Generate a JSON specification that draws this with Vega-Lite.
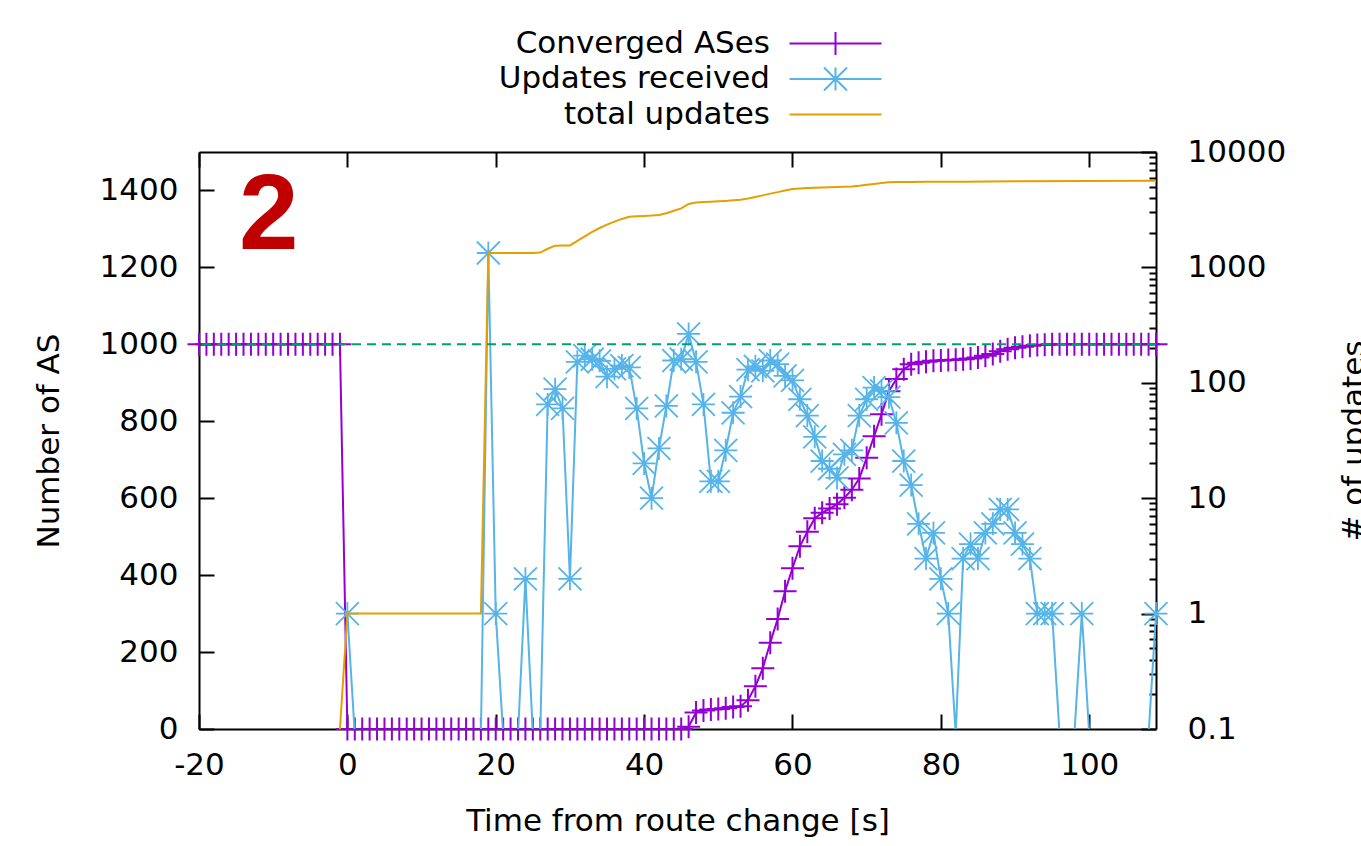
{
  "$schema": "https://vega.github.io/schema/vega-lite/v6.json",
  "width": 957,
  "height": 577,
  "autosize": {"type": "none"},
  "padding": {"left": 199, "top": 152, "right": 205, "bottom": 117},
  "background": "white",
  "config": {
    "view": {"stroke": null},
    "font": "DejaVu Sans",
    "axis": {
      "labelFont": "DejaVu Sans", "labelFontSize": 31, "labelColor": "black",
      "titleFont": "DejaVu Sans", "titleFontSize": 31, "titleFontWeight": "normal", "titleColor": "black",
      "domainColor": "black", "domainWidth": 2, "tickColor": "black", "tickWidth": 2,
      "grid": false, "zindex": 1, "labelFlush": false, "labelOverlap": false
    }
  },
  "datasets": {
    "conv": [
      {"t":-20,"v":1000},{"t":-19,"v":1000},{"t":-18,"v":1000},{"t":-17,"v":1000},{"t":-16,"v":1000},{"t":-15,"v":1000},{"t":-14,"v":1000},{"t":-13,"v":1000},{"t":-12,"v":1000},{"t":-11,"v":1000},
      {"t":-10,"v":1000},{"t":-9,"v":1000},{"t":-8,"v":1000},{"t":-7,"v":1000},{"t":-6,"v":1000},{"t":-5,"v":1000},{"t":-4,"v":1000},{"t":-3,"v":1000},{"t":-2,"v":1000},{"t":-1,"v":1000},
      {"t":0,"v":0},{"t":1,"v":0},{"t":2,"v":0},{"t":3,"v":0},{"t":4,"v":0},{"t":5,"v":0},{"t":6,"v":0},{"t":7,"v":0},{"t":8,"v":0},{"t":9,"v":0},
      {"t":10,"v":0},{"t":11,"v":0},{"t":12,"v":0},{"t":13,"v":0},{"t":14,"v":0},{"t":15,"v":0},{"t":16,"v":0},{"t":17,"v":0},{"t":18,"v":0},{"t":19,"v":0},
      {"t":20,"v":0},{"t":21,"v":0},{"t":22,"v":0},{"t":23,"v":0},{"t":24,"v":0},{"t":25,"v":0},{"t":26,"v":0},{"t":27,"v":0},{"t":28,"v":0},{"t":29,"v":0},
      {"t":30,"v":0},{"t":31,"v":0},{"t":32,"v":0},{"t":33,"v":0},{"t":34,"v":0},{"t":35,"v":0},{"t":36,"v":0},{"t":37,"v":0},{"t":38,"v":0},{"t":39,"v":0},
      {"t":40,"v":0},{"t":41,"v":0},{"t":42,"v":0},{"t":43,"v":0},{"t":44,"v":0},{"t":45,"v":0},{"t":46,"v":6},{"t":47,"v":43},{"t":48,"v":48},{"t":49,"v":51},
      {"t":50,"v":52},{"t":51,"v":54},{"t":52,"v":57},{"t":53,"v":59},{"t":54,"v":75},{"t":55,"v":111},{"t":56,"v":158},{"t":57,"v":224},{"t":58,"v":286},{"t":59,"v":358},
      {"t":60,"v":418},{"t":61,"v":475},{"t":62,"v":513},{"t":63,"v":548},{"t":64,"v":562},{"t":65,"v":573},{"t":66,"v":584},{"t":67,"v":601},{"t":68,"v":622},{"t":69,"v":651},
      {"t":70,"v":705},{"t":71,"v":761},{"t":72,"v":818},{"t":73,"v":878},{"t":74,"v":910},{"t":75,"v":935},{"t":76,"v":948},{"t":77,"v":952},{"t":78,"v":955},{"t":79,"v":957},
      {"t":80,"v":958},{"t":81,"v":959},{"t":82,"v":960},{"t":83,"v":961},{"t":84,"v":963},{"t":85,"v":966},{"t":86,"v":970},{"t":87,"v":975},{"t":88,"v":982},{"t":89,"v":987},
      {"t":90,"v":991},{"t":91,"v":994},{"t":92,"v":996},{"t":93,"v":998},{"t":94,"v":999},{"t":95,"v":1000},{"t":96,"v":1000},{"t":97,"v":1000},{"t":98,"v":1000},{"t":99,"v":1000},
      {"t":100,"v":1000},{"t":101,"v":1000},{"t":102,"v":1000},{"t":103,"v":1000},{"t":104,"v":1000},{"t":105,"v":1000},{"t":106,"v":1000},{"t":107,"v":1000},{"t":108,"v":1000},{"t":109,"v":1000}
    ],
    "upd": [
      {"t":0,"u":1},{"t":1,"u":0.09},{"t":2,"u":0.09},{"t":3,"u":0.09},{"t":4,"u":0.09},{"t":5,"u":0.09},{"t":6,"u":0.09},{"t":7,"u":0.09},{"t":8,"u":0.09},{"t":9,"u":0.09},
      {"t":10,"u":0.09},{"t":11,"u":0.09},{"t":12,"u":0.09},{"t":13,"u":0.09},{"t":14,"u":0.09},{"t":15,"u":0.09},{"t":16,"u":0.09},{"t":17,"u":0.09},{"t":18,"u":0.09},{"t":19,"u":1333},
      {"t":20,"u":1},{"t":21,"u":0.09},{"t":22,"u":0.09},{"t":23,"u":0.09},{"t":24,"u":2},{"t":25,"u":0.09},{"t":26,"u":0.09},{"t":27,"u":65},{"t":28,"u":88},{"t":29,"u":60},
      {"t":30,"u":2},{"t":31,"u":152},{"t":32,"u":172},{"t":33,"u":160},{"t":34,"u":155},{"t":35,"u":113},{"t":36,"u":132},{"t":37,"u":141},{"t":38,"u":136},{"t":39,"u":60},
      {"t":40,"u":20},{"t":41,"u":10},{"t":42,"u":27},{"t":43,"u":63},{"t":44,"u":156},{"t":45,"u":160},{"t":46,"u":265},{"t":47,"u":152},{"t":48,"u":65},{"t":49,"u":14},
      {"t":50,"u":14},{"t":51,"u":26},{"t":52,"u":55},{"t":53,"u":76},{"t":54,"u":130},{"t":55,"u":139},{"t":56,"u":127},{"t":57,"u":156},{"t":58,"u":145},{"t":59,"u":115},
      {"t":60,"u":105},{"t":61,"u":72},{"t":62,"u":52},{"t":63,"u":34},{"t":64,"u":21},{"t":65,"u":18},{"t":66,"u":15},{"t":67,"u":24},{"t":68,"u":26},{"t":69,"u":52},
      {"t":70,"u":72},{"t":71,"u":91},{"t":72,"u":85},{"t":73,"u":75},{"t":74,"u":45},{"t":75,"u":21},{"t":76,"u":13},{"t":77,"u":6},{"t":78,"u":3},{"t":79,"u":5},
      {"t":80,"u":2},{"t":81,"u":1},{"t":82,"u":0.09},{"t":83,"u":3},{"t":84,"u":4},{"t":85,"u":3},{"t":86,"u":5},{"t":87,"u":6},{"t":88,"u":8},{"t":89,"u":8},
      {"t":90,"u":5},{"t":91,"u":4},{"t":92,"u":3},{"t":93,"u":1},{"t":94,"u":1},{"t":95,"u":1},{"t":96,"u":0.09},{"t":97,"u":0.09},{"t":98,"u":0.09},{"t":99,"u":1},
      {"t":100,"u":0.09},{"t":101,"u":0.09},{"t":102,"u":0.09},{"t":103,"u":0.09},{"t":104,"u":0.09},{"t":105,"u":0.09},{"t":106,"u":0.09},{"t":107,"u":0.09},{"t":108,"u":0.09},{"t":109,"u":1}
    ],
    "total": [
      {"t":-1,"n":0.1},{"t":0,"n":1},{"t":18,"n":1},{"t":19,"n":1334},{"t":25,"n":1334},{"t":26,"n":1345},{"t":27,"n":1450},{"t":28,"n":1542},{"t":29,"n":1545},{"t":30,"n":1550},
      {"t":31,"n":1700},{"t":32,"n":1860},{"t":33,"n":2030},{"t":34,"n":2195},{"t":35,"n":2350},{"t":36,"n":2490},{"t":37,"n":2630},{"t":38,"n":2750},{"t":39,"n":2770},{"t":40,"n":2790},
      {"t":41,"n":2810},{"t":42,"n":2850},{"t":43,"n":2950},{"t":44,"n":3100},{"t":45,"n":3250},{"t":46,"n":3546},{"t":47,"n":3650},{"t":48,"n":3690},{"t":49,"n":3710},{"t":50,"n":3740},
      {"t":51,"n":3770},{"t":52,"n":3810},{"t":53,"n":3860},{"t":54,"n":3960},{"t":55,"n":4080},{"t":56,"n":4210},{"t":57,"n":4360},{"t":58,"n":4490},{"t":59,"n":4640},{"t":60,"n":4780},
      {"t":61,"n":4830},{"t":62,"n":4870},{"t":63,"n":4900},{"t":64,"n":4930},{"t":65,"n":4950},{"t":66,"n":4975},{"t":67,"n":5000},{"t":68,"n":5020},{"t":69,"n":5100},{"t":70,"n":5200},
      {"t":71,"n":5290},{"t":72,"n":5380},{"t":73,"n":5460},{"t":74,"n":5490},{"t":76,"n":5505},{"t":78,"n":5515},{"t":80,"n":5525},{"t":83,"n":5531},{"t":90,"n":5570},{"t":100,"n":5610},{"t":109,"n":5640}
    ]
  },
  "layer": [
    {
      "data": {"name": "conv"},
      "mark": {"type": "line", "strokeWidth": 2},
      "encoding": {
        "x": {"field": "t", "type": "quantitative", "scale": {"domain": [-20, 109], "nice": false, "zero": false},
          "axis": {"orient": "bottom", "values": [-20, 0, 20, 40, 60, 80, 100], "tickSize": -15, "labelPadding": 36, "labelExpr": "datum.value + ''",
            "title": "Time from route change [s]", "titleX": 478.5, "titleY": 101, "titleBaseline": "alphabetic", "titleAlign": "center"}},
        "y": {"field": "v", "type": "quantitative", "scale": {"domain": [0, 1500], "nice": false, "zero": true},
          "axis": {"orient": "left", "values": [0, 200, 400, 600, 800, 1000, 1200, 1400], "tickSize": -15, "labelPadding": 36, "format": "d",
            "title": "Number of AS", "titleX": -141, "titleY": 288.5, "titleAngle": 270, "titleBaseline": "alphabetic", "titleAlign": "center"}},
        "color": {"datum": "Converged ASes", "type": "nominal",
          "scale": {"domain": ["Converged ASes", "Updates received", "total updates"], "range": ["#9400d3", "#56b4e9", "#e69f00"]},
          "legend": {"orient": "none", "legendX": 621, "legendY": -124, "title": null, "padding": 0,
            "labelFont": "DejaVu Sans", "labelFontSize": 31, "labelColor": "black", "labelAlign": "right", "labelOffset": -81, "labelLimit": 500,
            "symbolSize": 529, "symbolStrokeWidth": 2, "rowPadding": 3.5,
            "symbolType": {"expr": "datum.value === 'Converged ASes' ? 'M-4,0L4,0M0,-1L0,1' : (datum.value === 'Updates received' ? 'M-4,0L4,0M0,-1L0,1M-1,-1L1,1M-1,1L1,-1' : 'M-4,0L4,0')"}}
        }
      }
    },
    {
      "data": {"name": "conv"},
      "mark": {"type": "point", "shape": "M-1,0L1,0M0,-1L0,1", "filled": false, "size": 529, "strokeWidth": 2, "color": "#9400d3", "opacity": 1},
      "encoding": {
        "x": {"field": "t", "type": "quantitative", "scale": {"domain": [-20, 109], "nice": false, "zero": false}, "axis": null},
        "y": {"field": "v", "type": "quantitative", "scale": {"domain": [0, 1500], "nice": false, "zero": true}, "axis": null}
      }
    },
    {
      "data": {"name": "upd"},
      "mark": {"type": "line", "strokeWidth": 2, "clip": true},
      "encoding": {
        "x": {"field": "t", "type": "quantitative", "scale": {"domain": [-20, 109], "nice": false, "zero": false},
          "axis": {"orient": "top", "values": [-20, 0, 20, 40, 60, 80, 100], "tickSize": -15, "labels": false, "title": null}},
        "y": {"field": "u", "type": "quantitative", "scale": {"type": "log", "domain": [0.1, 10000], "nice": false},
          "axis": {"orient": "right", "values": [0.1, 1, 10, 100, 1000, 10000], "tickSize": -15, "labelPadding": 46, "format": "~g",
            "title": "# of updates", "titleX": 207, "titleY": 288.5, "titleAngle": 270, "titleBaseline": "alphabetic", "titleAlign": "center"}},
        "color": {"datum": "Updates received", "type": "nominal"}
      }
    },
    {
      "data": {"name": "upd"},
      "transform": [{"filter": "datum.u >= 1"}],
      "mark": {"type": "point", "shape": "M-1,0L1,0M0,-1L0,1M-1,-1L1,1M-1,1L1,-1", "filled": false, "size": 529, "strokeWidth": 1.8, "color": "#56b4e9", "opacity": 1},
      "encoding": {
        "x": {"field": "t", "type": "quantitative", "scale": {"domain": [-20, 109], "nice": false, "zero": false}, "axis": null},
        "y": {"field": "u", "type": "quantitative", "scale": {"type": "log", "domain": [0.1, 10000], "nice": false}, "axis": null}
      }
    },
    {
      "data": {"name": "total"},
      "mark": {"type": "line", "strokeWidth": 2},
      "encoding": {
        "x": {"field": "t", "type": "quantitative", "scale": {"domain": [-20, 109], "nice": false, "zero": false}, "axis": null},
        "y": {"field": "n", "type": "quantitative", "scale": {"type": "log", "domain": [0.1, 10000], "nice": false},
          "axis": {"orient": "right", "values": [0.2,0.3,0.4,0.5,0.6,0.7,0.8,0.9,2,3,4,5,6,7,8,9,20,30,40,50,60,70,80,90,200,300,400,500,600,700,800,900,2000,3000,4000,5000,6000,7000,8000,9000],
            "tickSize": -7, "labels": false, "domain": false, "title": null}},
        "color": {"datum": "total updates", "type": "nominal"}
      }
    },
    {
      "data": {"values": [{}]},
      "mark": {"type": "rule", "color": "#009e73", "strokeDash": [9, 6], "strokeWidth": 2},
      "encoding": {
        "y": {"datum": 1000, "type": "quantitative", "scale": {"domain": [0, 1500], "nice": false, "zero": true}, "axis": null}
      }
    },
    {
      "data": {"values": [{"label": "2"}]},
      "mark": {"type": "text", "font": "Liberation Sans", "fontWeight": "bold", "fontSize": 107, "color": "#c00000", "align": "left", "baseline": "alphabetic"},
      "encoding": {
        "text": {"field": "label", "type": "nominal"},
        "x": {"datum": -14.6, "type": "quantitative", "scale": {"domain": [-20, 109], "nice": false, "zero": false}, "axis": null},
        "y": {"datum": 1249, "type": "quantitative", "scale": {"domain": [0, 1500], "nice": false, "zero": true}, "axis": null}
      }
    }
  ],
  "resolve": {"scale": {"y": "independent"}, "axis": {"x": "independent", "y": "independent"}}
}
